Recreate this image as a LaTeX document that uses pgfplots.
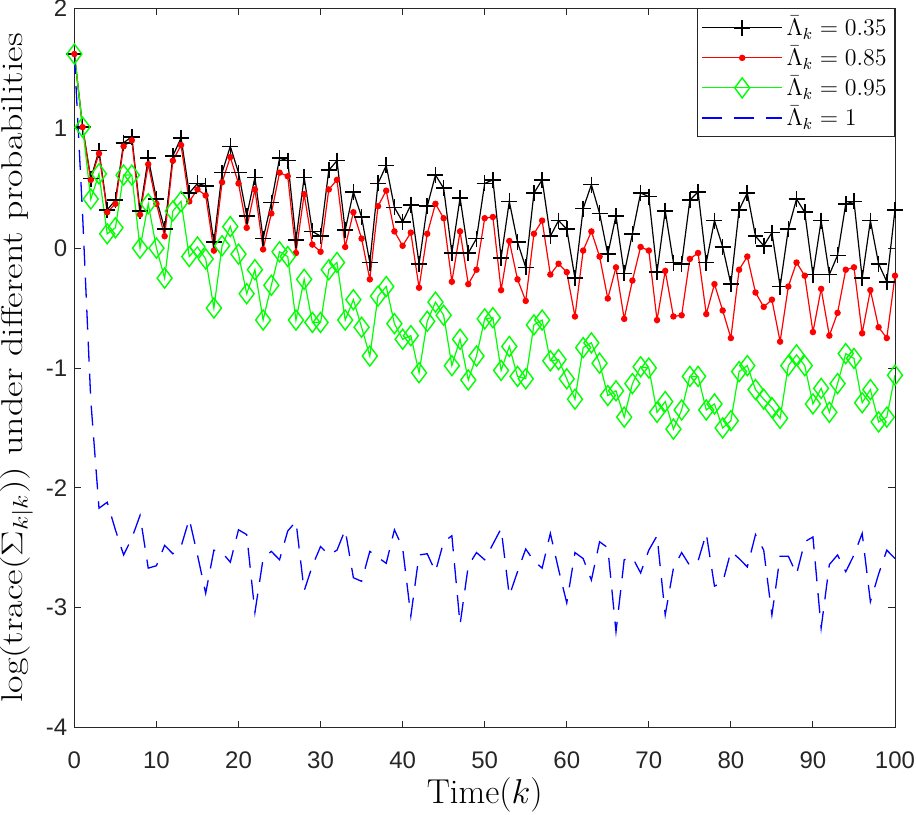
\documentclass[border=0pt]{standalone}
\usepackage{pgfplots}
\pgfplotsset{compat=1.18}
\usepackage{pgfplotstable}
\usepackage{amsmath}
\usepackage{graphicx}
\usepackage{fontspec}
\newfontfamily\helv{Liberation Sans}
\pgfplotstableread{
k a b c d
0 1.62 1.62 1.62 1.62
1 1.01 1.01 1.01 0.28
2 0.58 0.57 0.41 -1.27
3 0.815 0.79 0.62 -2.17
4 0.32 0.30 0.12 -2.12
5 0.40 0.37 0.17 -2.35
6 0.88 0.85 0.61 -2.56
7 0.93 0.90 0.61 -2.42
8 0.31 0.28 0.00 -2.23
9 0.75 0.70 0.37 -2.67
10 0.41 0.37 0.00 -2.65
11 0.16 0.10 -0.25 -2.48
12 0.77 0.73 0.31 -2.55
13 0.92 0.86 0.39 -2.49
14 0.46 0.39 -0.07 -2.26
15 0.54 0.49 0.01 -2.56
16 0.52 0.44 -0.09 -2.88
17 0.05 -0.02 -0.50 -2.52
18 0.63 0.55 0.02 -2.54
19 0.85 0.76 0.18 -2.62
20 0.63 0.54 -0.05 -2.35
21 0.27 0.17 -0.38 -2.39
22 0.59 0.49 -0.18 -3.04
23 0.08 -0.01 -0.60 -2.59
24 0.38 0.29 -0.31 -2.53
25 0.75 0.63 -0.03 -2.60
26 0.73 0.60 -0.07 -2.36
27 0.07 -0.04 -0.60 -2.28
28 0.59 0.45 -0.26 -2.86
29 0.14 0.03 -0.62 -2.65
30 0.10 -0.03 -0.62 -2.49
31 0.65 0.49 -0.18 -2.56
32 0.73 0.57 -0.12 -2.52
33 0.15 0.01 -0.60 -2.35
34 0.47 0.30 -0.43 -2.75
35 0.26 0.08 -0.66 -2.78
36 -0.12 -0.26 -0.90 -2.53
37 0.54 0.35 -0.40 -2.58
38 0.69 0.48 -0.32 -2.63
39 0.34 0.14 -0.63 -2.35
40 0.22 0.02 -0.76 -2.50
41 0.36 0.13 -0.73 -3.07
42 -0.13 -0.33 -1.04 -2.56
43 0.35 0.12 -0.61 -2.55
44 0.61 0.37 -0.45 -2.70
45 0.50 0.25 -0.56 -2.45
46 -0.04 -0.28 -0.98 -2.40
47 0.42 0.14 -0.76 -3.14
48 -0.04 -0.30 -1.10 -2.65
49 0.08 -0.18 -0.90 -2.54
50 0.54 0.25 -0.59 -2.60
51 0.57 0.26 -0.58 -2.47
52 -0.08 -0.35 -1.02 -2.34
53 0.39 0.06 -0.82 -2.90
54 0.05 -0.26 -1.07 -2.70
55 -0.16 -0.44 -1.09 -2.51
56 0.46 0.12 -0.64 -2.61
57 0.57 0.23 -0.60 -2.67
58 0.10 -0.22 -0.94 -2.38
59 0.23 -0.13 -0.93 -2.68
60 0.16 -0.20 -1.09 -2.96
61 -0.25 -0.57 -1.26 -2.54
62 0.33 -0.02 -0.83 -2.59
63 0.53 0.14 -0.79 -2.77
64 0.29 -0.07 -0.96 -2.45
65 -0.05 -0.42 -1.23 -2.50
66 0.27 -0.16 -1.19 -3.20
67 -0.21 -0.59 -1.41 -2.60
68 0.12 -0.27 -1.13 -2.58
69 0.46 0.01 -0.99 -2.71
70 0.43 -0.02 -1.00 -2.52
71 -0.20 -0.60 -1.37 -2.40
72 0.31 -0.19 -1.28 -3.06
73 -0.12 -0.57 -1.51 -2.67
74 -0.13 -0.56 -1.35 -2.54
75 0.40 -0.09 -1.07 -2.65
76 0.47 -0.04 -1.07 -2.61
77 -0.12 -0.55 -1.35 -2.38
78 0.23 -0.30 -1.30 -2.82
79 0.01 -0.52 -1.50 -2.79
80 -0.30 -0.75 -1.44 -2.53
81 0.32 -0.18 -1.03 -2.59
82 0.46 -0.07 -0.98 -2.66
83 0.10 -0.37 -1.18 -2.39
84 0.02 -0.49 -1.26 -2.52
85 0.13 -0.43 -1.33 -3.06
86 -0.32 -0.78 -1.42 -2.57
87 0.16 -0.32 -0.98 -2.57
88 0.41 -0.12 -0.89 -2.72
89 0.30 -0.23 -0.98 -2.45
90 -0.22 -0.70 -1.30 -2.41
91 0.23 -0.34 -1.17 -3.17
92 -0.22 -0.73 -1.37 -2.64
93 -0.06 -0.54 -1.13 -2.56
94 0.37 -0.18 -0.88 -2.70
95 0.39 -0.16 -0.92 -2.56
96 -0.25 -0.71 -1.29 -2.38
97 0.23 -0.35 -1.18 -2.95
98 -0.13 -0.66 -1.45 -2.72
99 -0.28 -0.75 -1.41 -2.52
100 0.32 -0.23 -1.06 -2.59
}\data
\begin{document}
\begin{tikzpicture}
\begin{axis}[
  name=ax,
  width=410.4pt, height=359.6pt, scale only axis,
  xmin=0, xmax=100, ymin=-4, ymax=2,
  xtick={0,10,...,100}, ytick={-4,-3,...,2},
  tick align=inside, xtick pos=both, ytick pos=both,
  major tick length=3.5pt,
  axis line style={black!85, line width=0.5pt},
  every tick/.style={black!85, line width=0.5pt},
  tick label style={font=\helv\fontsize{12}{14}\selectfont, text=black!85},
  /pgf/number format/assume math mode=true,
  xticklabel style={yshift=-8.5pt},
  every axis x label/.style={at={(axis description cs:0.5,0)}, yshift=-33.5pt, anchor=center,
    font=\fontsize{17.28}{20}\selectfont},
  every axis y label/.style={at={(axis description cs:0,0.5)}, xshift=-29pt, rotate=90, anchor=center,
    font=\fontsize{17.28}{20}\selectfont, inner sep=0pt},
  xlabel={Time$(k)$},
  ylabel={\scalebox{1.10}[0.87]{$\log(\mathrm{trace}(\Sigma_{k|k}))$ under different probabilities}},
  legend style={at={(1,1)}, anchor=north east, font=\fontsize{12}{14}\selectfont,
    draw=black!85, row sep=0pt, inner sep=2pt,
    cells={anchor=west, text height=9.5pt, text depth=3.5pt, inner sep=1.5pt}},
  legend cell align=left,
  legend image code/.code={\draw[mark repeat=2,mark phase=2,#1] plot coordinates {(0cm,0cm) (0.7cm,0cm) (1.4cm,0cm)};},
]
\addplot[black, line width=0.6pt, mark=+, mark size=4pt, mark options={line width=0.8pt}] table[x=k,y=a]{\data};
\addlegendentry{$\bar{\Lambda}_k=0.35$}
\addplot[red, line width=0.6pt, mark=*, mark size=1.3pt] table[x=k,y=b]{\data};
\addlegendentry{$\bar{\Lambda}_k=0.85$}
\addplot[green, line width=0.6pt, mark=diamond, mark size=5pt, mark options={line width=0.7pt, solid}] table[x=k,y=c]{\data};
\addlegendentry{$\bar{\Lambda}_k=0.95$}
\addplot[blue, line width=0.65pt, dash pattern=on 10pt off 6pt] table[x=k,y=d]{\data};
\addlegendentry{$\bar{\Lambda}_k=1$}
\end{axis}
\pgfresetboundingbox
\path ([shift={(-37.2pt,-43.65pt)}]ax.south west) rectangle ([shift={(10.5pt,4.25pt)}]ax.north east);
\end{tikzpicture}
\end{document}
